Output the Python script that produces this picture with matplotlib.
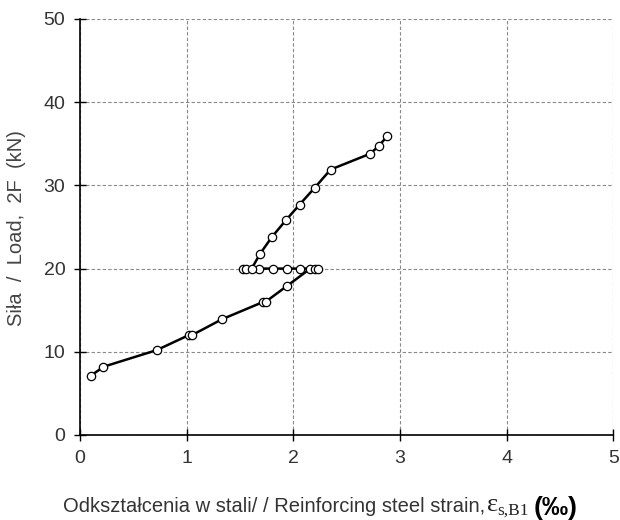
import matplotlib
matplotlib.use("Agg")
import matplotlib.pyplot as plt

plt.rcParams['font.family'] = ['Liberation Sans', 'DejaVu Sans']

# odczyt z wykresu: odkształcenie (‰) i siła (kN)
strain = [0.10, 0.22, 0.72, 1.02, 1.05, 1.33, 1.72, 1.74, 1.94, 2.16, 2.20, 2.23,
          2.06, 1.94, 1.81, 1.68, 1.53, 1.56, 1.61,
          1.69, 1.80, 1.93, 2.06, 2.20, 2.35, 2.72, 2.80, 2.88]
load = [7.1, 8.2, 10.2, 12.0, 12.0, 13.9, 16.0, 16.0, 17.9, 20.0, 20.0, 20.0,
        20.0, 20.0, 20.0, 20.0, 20.0, 20.0, 20.0,
        21.8, 23.8, 25.8, 27.7, 29.7, 31.9, 33.8, 34.7, 35.9]

x_ticks = [0, 1, 2, 3, 4, 5]
y_ticks = [0, 10, 20, 30, 40, 50]

fig = plt.figure(figsize=(6.2, 5.2), dpi=100)
ax = fig.add_axes([0.129, 0.1635, 0.860, 0.800])

ax.plot(strain, load, color='black', lw=1.8, marker='o', ms=6,
        mfc='white', mec='black', mew=0.9, zorder=3)

ax.set_xlim(0, 5)
ax.set_ylim(0, 50)
ax.set_xticks(x_ticks)
ax.set_yticks(y_ticks)
ax.tick_params(labelsize=14, labelcolor='#333333', color='black', length=9,
               width=1, direction='inout', pad=6)
ax.grid(True, color='#888888', linestyle=(0, (3, 2)), linewidth=0.8)
for s in ['top', 'right']:
    ax.spines[s].set_visible(False)
for s in ['left', 'bottom']:
    ax.spines[s].set_linewidth(1.2)

fig.text(0.027, 1 - 130 / 520, 'Siła  /  Load,  2F  (kN)', fontsize=14.5,
         color='#444444', rotation=90, ha='center', va='top')

# podpis osi x złożony z kilku części
t1 = fig.text(63 / 620, 1 - 512 / 520,
              'Odkształcenia w stali/ / Reinforcing steel strain,',
              fontsize=14.5, color='#333333', ha='left', va='baseline')
t2 = ax.annotate('ε', xy=(1, 0), xycoords=t1, xytext=(1, 0),
                 textcoords='offset points', fontsize=19, family='Liberation Serif',
                 color='#222222', ha='left', va='bottom')
t3 = ax.annotate('s,B1', xy=(1, 0), xycoords=t2, xytext=(0, -2),
                 textcoords='offset points', fontsize=12.5, family='Liberation Serif',
                 color='#222222', ha='left', va='bottom')
ax.annotate('(‰)', xy=(1, 0), xycoords=t3, xytext=(3, -1),
            textcoords='offset points', fontsize=19, fontweight='bold',
            ha='left', va='bottom')

fig.savefig('out.png', dpi=100)
